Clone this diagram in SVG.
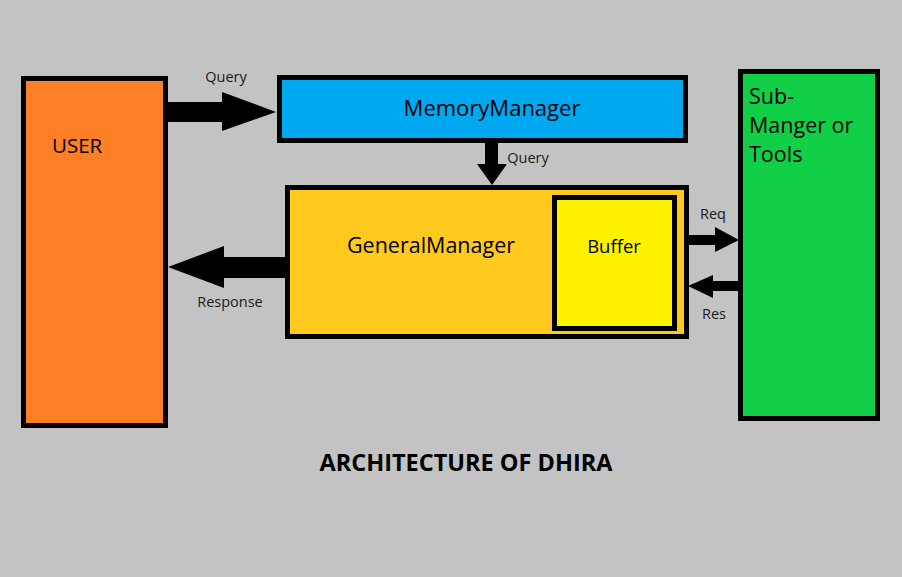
<svg xmlns="http://www.w3.org/2000/svg" width="902" height="577" viewBox="0 0 902 577">
<style>
.box{stroke:#000;stroke-width:5}
.t{font-family:"Open Sans","Noto Sans","DejaVu Sans",sans-serif;fill:#000}
.lbl{font-family:"Open Sans","Noto Sans","DejaVu Sans",sans-serif;fill:#1a1a1a;font-size:14.5px}
.arr{fill:#000}
</style>
<rect width="902" height="577" fill="#c3c3c3"/>
<g id="user">
<rect class="box" x="23.5" y="78.5" width="142" height="347" fill="#ff7f27"/>
<text class="t" x="52" y="153" font-size="20.5">USER</text>
</g>
<g id="memory-manager">
<rect class="box" x="279.5" y="77.5" width="406" height="63" fill="#00a8f0"/>
<text class="t" x="492" y="116" font-size="22" text-anchor="middle">MemoryManager</text>
</g>
<g id="general-manager">
<rect class="box" x="287.5" y="187.5" width="399" height="149" fill="#ffc91e"/>
<text class="t" x="431" y="253" font-size="21.5" text-anchor="middle">GeneralManager</text>
</g>
<g id="buffer">
<rect class="box" x="554.5" y="197.5" width="120" height="131" fill="#fff200"/>
<text class="t" x="614" y="253" font-size="18.5" text-anchor="middle">Buffer</text>
</g>
<g id="sub-manager">
<rect class="box" x="740.5" y="71.5" width="137" height="347" fill="#12cf48"/>
<text class="t" x="749" y="104" font-size="21.5">Sub-</text>
<text class="t" x="749" y="133" font-size="21.5">Manger or</text>
<text class="t" x="749" y="162" font-size="21.5">Tools</text>
</g>
<g id="connectors">
<polygon class="arr" points="168,102 222,102 222,92 276,112 222,131 222,122 168,122"/>
<text class="lbl" x="226" y="82" text-anchor="middle">Query</text>
<polygon class="arr" points="485,143 498,143 498,164 507,164 492,185 477,164 485,164"/>
<text class="lbl" x="528" y="163" text-anchor="middle">Query</text>
<polygon class="arr" points="285,257 224,257 224,246 168,267 224,288 224,278 285,278"/>
<text class="lbl" x="230" y="307" text-anchor="middle">Response</text>
<polygon class="arr" points="689,235 715,235 715,227 739,240 715,252 715,245 689,245"/>
<text class="lbl" x="713" y="219" text-anchor="middle">Req</text>
<polygon class="arr" points="739,281 713,281 713,275 688,286 713,298 713,291 739,291"/>
<text class="lbl" x="714" y="319" text-anchor="middle">Res</text>
</g>
<text class="t" x="466" y="471" font-size="23.5" font-weight="bold" text-anchor="middle">ARCHITECTURE OF DHIRA</text>
</svg>
